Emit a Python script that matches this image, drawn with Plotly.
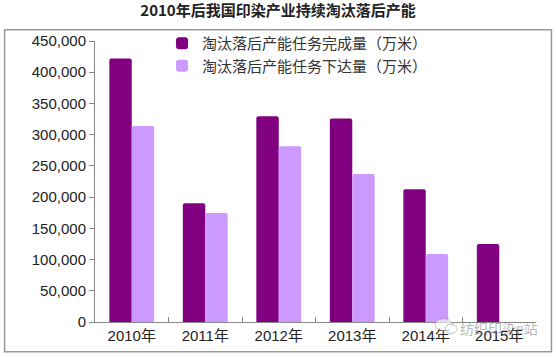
import plotly.graph_objects as go

categories = ["2010年", "2011年", "2012年", "2013年", "2014年", "2015年"]
completed = [422000, 190000, 329500, 326000, 212500, 125000]
assigned = [314000, 174500, 281500, 237000, 109000, None]
series_names = ["淘汰落后产能任务完成量（万米）", "淘汰落后产能任务下达量（万米）"]
y_ticks = [0, 50000, 100000, 150000, 200000, 250000, 300000, 350000, 400000, 450000]
title_text = "2010年后我国印染产业持续淘汰落后产能"
watermark = "纺织印染e站"

fig = go.Figure()
fig.add_trace(go.Bar(x=categories, y=completed, name=series_names[0],
                     marker=dict(color="#800080", line=dict(width=0))))
fig.add_trace(go.Bar(x=categories, y=assigned, name=series_names[1],
                     marker=dict(color="#CC99FF", line=dict(width=0))))

fig.update_layout(
    width=556, height=357,
    margin=dict(l=95, r=20, t=41, b=35),
    paper_bgcolor="white", plot_bgcolor="white",
    barmode="group", bargap=0.39, bargroupgap=0, barcornerradius=2,
    title=dict(text=title_text, x=0.5, xanchor="center", y=0.985, yanchor="top",
               font=dict(family="Noto Sans CJK SC, Liberation Sans", size=15, color="#222222", weight="bold")),
    legend=dict(x=0.152, y=1.05, xanchor="left", yanchor="top", bgcolor="rgba(0,0,0,0)",
                font=dict(family="Noto Sans CJK SC", size=15, color="#333333"),
                tracegroupgap=0, itemwidth=30),
    showlegend=True,
    font=dict(family="Liberation Sans, Arial", size=15, color="#222222"),
)
fig.update_yaxes(range=[0, 450000], tickvals=y_ticks, tickformat=",", showgrid=False,
                 showline=True, linecolor="#888888", linewidth=1,
                 ticks="outside", ticklen=5, tickcolor="#888888",
                 tickfont=dict(family="Liberation Sans, Arial", size=15, color="#222222"),
                 zeroline=False)
fig.update_xaxes(showline=True, linecolor="#888888", linewidth=1, showgrid=False,
                 ticks="inside", tickson="boundaries", ticklen=5, tickcolor="#888888",
                 tickfont=dict(family="Liberation Sans, Noto Sans CJK SC", size=15, color="#222222"))

fig.add_shape(type="rect", xref="paper", yref="paper", x0=-0.205, x1=1.035, y0=-0.106, y1=1.04,
              line=dict(color="#999999", width=1.5), fillcolor="rgba(0,0,0,0)", layer="below")
# watermark icon (two speech bubbles)
fig.add_shape(type="circle", xref="paper", yref="paper", x0=0.771, x1=0.810, y0=-0.031, y1=0.012,
              line=dict(color="rgba(150,150,150,0.6)", width=1), fillcolor="rgba(255,255,255,0.6)")
fig.add_shape(type="circle", xref="paper", yref="paper", x0=0.794, x1=0.821, y0=-0.041, y1=-0.008,
              line=dict(color="rgba(150,150,150,0.6)", width=1), fillcolor="rgba(255,255,255,0.6)")
fig.add_annotation(text=watermark, xref="paper", yref="paper", x=1.01, y=-0.02,
                   xanchor="right", yanchor="middle", showarrow=False,
                   font=dict(family="Noto Sans CJK SC", size=14, color="rgba(120,120,120,0.55)"))

fig.write_html("out.html", config={"displayModeBar": False},
               post_script="document.body.style.margin='0';")
